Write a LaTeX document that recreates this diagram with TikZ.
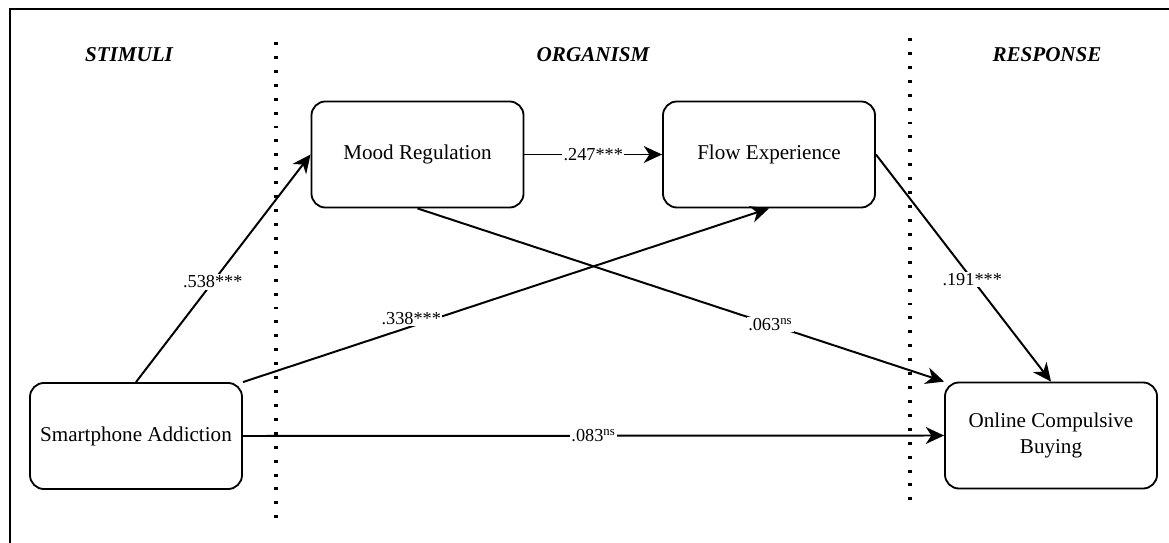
\documentclass[tikz,border=0pt]{standalone}
\usepackage{fontspec}
\setmainfont{Liberation Serif}
\usetikzlibrary{arrows.meta, positioning}

\begin{document}
\begin{tikzpicture}[x=0.025cm, y=-0.025cm,
      box/.style={rectangle, draw, rounded corners=0.35cm, line width=1.3pt, font=\fontsize{15}{18}\selectfont, align=center, minimum width=5.3cm, minimum height=2.65cm},
      arrow/.style={-{Stealth[length=13pt, width=12pt, inset=4pt]}, line width=1.4pt},
      coef/.style={fill=white, inner sep=1pt, font=\fontsize{13}{15}\selectfont},
      head/.style={font=\fontsize{15}{18}\selectfont\bfseries\itshape},
      sep/.style={line width=2.3pt, dash pattern=on 2.1pt off 7.8pt},
    ]
      \useasboundingbox (0,0) rectangle (1169,543);
      \draw[line width=1.6pt] (10,543) -- (10,9) -- (1169,9);

      % columns
      \node[head] (stim) at (129, 55) {STIMULI};
      \node[head] (org) at (593, 55) {ORGANISM};
      \node[head] (resp) at (1047, 55) {RESPONSE};
      \draw[sep] (276, 42) -- (276, 523);
      \draw[sep] (910, 38) -- (910, 508);

      \node[box] (sa) at (136, 436) {Smartphone Addiction};
      \node[box] (mr) at (417.5, 154.5) {Mood Regulation};
      \node[box] (fe) at (769, 154.5) {Flow Experience};
      \node[box] (ocb) at (1051, 435.5) {Online Compulsive\\Buying};

      \draw[arrow] (sa.north) -- node[coef, pos=0.44] {.538***} (mr.west);
      \draw[arrow] (sa.north east) -- node[coef, pos=0.32, yshift=0.2cm] {.338***} (fe.south);
      \draw[arrow] (mr.east) -- node[coef] {.247***} (fe.west);
      \draw[arrow] (mr.south) -- node[coef, pos=0.67] {.063\textsuperscript{ns}} (ocb.north west);
      \draw[arrow] (fe.east) -- node[coef, pos=0.55] {.191***} (ocb.north);
      \draw[arrow] (sa.east) -- node[coef] {.083\textsuperscript{ns}} (ocb.west);
    \end{tikzpicture}
\end{document}
